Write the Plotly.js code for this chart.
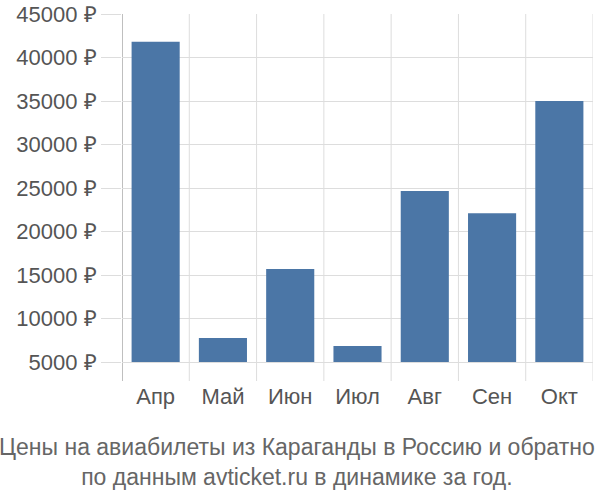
<!DOCTYPE html>
<html>
<head>
<meta charset="utf-8">
<script src="https://cdn.plot.ly/plotly-3.0.1.min.js"></script>
<style>html,body{margin:0;padding:0;background:#fff;}#chart{width:600px;height:500px;}</style>
</head>
<body>
<div id="chart"></div>
<script>
var months = ["Апр", "Май", "Июн", "Июл", "Авг", "Сен", "Окт"];
var prices = [41800, 7750, 15700, 6850, 24650, 22100, 35000];
var yTicks = [5000, 10000, 15000, 20000, 25000, 30000, 35000, 40000, 45000];
var yTickText = yTicks.map(function(v){ return v + " ₽"; });

var shapes = [];
for (var i = 0; i <= months.length; i++) {
  shapes.push({type: "line", xref: "x", yref: "paper", x0: i - 0.5, x1: i - 0.5, y0: 0, y1: 1,
    line: {color: i === 0 ? "#aaaaaa" : "#dddddd", width: i === 0 ? 1.5 : 1}, layer: "below"});
}

var trace = {
  type: "bar",
  x: months,
  y: prices.map(function(v){ return v - 5000; }),
  base: 5000,
  marker: {color: "#4b76a6", line: {width: 0}},
  hoverinfo: "skip"
};

var layout = {
  width: 600, height: 500,
  margin: {l: 122, r: 7, t: 14, b: 119},
  paper_bgcolor: "#ffffff", plot_bgcolor: "#ffffff",
  bargap: 0.285,
  showlegend: false,
  font: {family: "Liberation Sans, Arial, sans-serif", color: "#555555"},
  xaxis: {
    range: [-0.5, 6.5], showgrid: false, zeroline: false, showline: false,
    ticks: "", tickfont: {size: 22, color: "#555555"}, fixedrange: true
  },
  yaxis: {
    range: [2820, 45000], tickvals: yTicks, ticktext: yTickText,
    showgrid: true, gridcolor: "#dddddd", gridwidth: 1, zeroline: false, showline: false,
    ticks: "outside", ticklen: 20, tickcolor: "#dddddd",
    tickfont: {size: 22, color: "#555555"}, fixedrange: true
  },
  shapes: shapes,
  annotations: [{
    xref: "paper", yref: "paper", x: 0.5, y: 0, xanchor: "center", yanchor: "top",
    xshift: -61, yshift: -51,
    text: "Цены на авиабилеты из Караганды в Россию и обратно<br>по данным avticket.ru в динамике за год.",
    showarrow: false, font: {size: 23, color: "#666666"}, align: "center"
  }]
};

Plotly.newPlot("chart", [trace], layout, {displayModeBar: false, staticPlot: true});
</script>
</body>
</html>
